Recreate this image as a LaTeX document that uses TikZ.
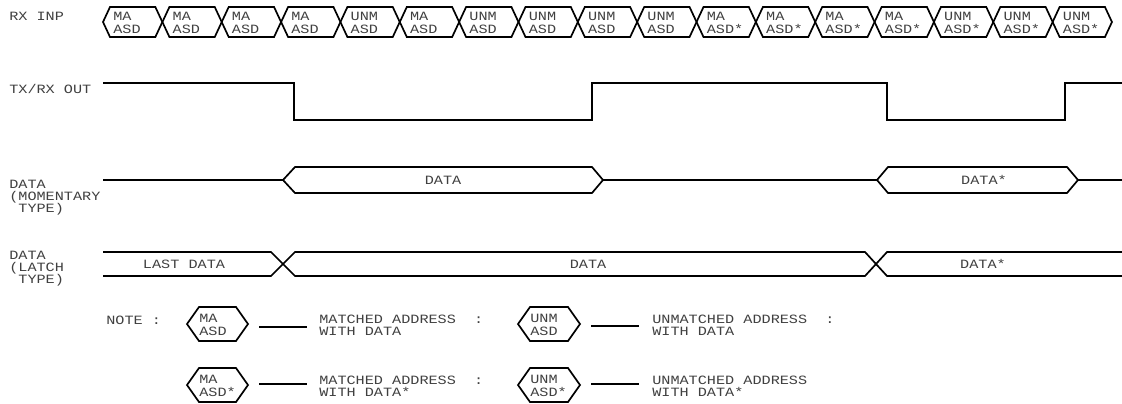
\documentclass[tikz,border=0pt]{standalone}
\usepackage{fontspec}
\usepackage{tikz}
\newfontfamily\plotfont[FakeStretch=1.2]{Liberation Mono}
\tikzset{
  sig/.style={line width=1.2pt},
  lbl/.style={font=\plotfont\fontsize{9}{8.5}\selectfont, text=black!75, inner sep=0pt, anchor=west, align=left},
  hexlbl/.style={font=\plotfont\fontsize{9}{9.2}\selectfont, text=black!75, inner sep=0pt, anchor=west, align=left},
  keyline/.style={line width=0.8pt}
}

\begin{document}
\begin{tikzpicture}[x=0.025cm,y=-0.025cm]
			\useasboundingbox (0,0) rectangle (1122,403);
			\node[lbl] (rxinp) at (9,16) {RX INP};
			\node[lbl] (txout) at (9,89) {TX/RX OUT};
			\node[lbl] (datamom) at (9,198) {DATA\\(MOMENTARY\\~TYPE)};
			\node[lbl] (datalatch) at (9,269) {DATA\\(LATCH\\~TYPE)};
			\draw[sig] (103,22) -- ++(7,-15) -- ++(45.35,0) -- ++(7,15) -- ++(-7,15) -- ++(-45.35,0) -- cycle;
			\draw[sig] (162.4,22) -- ++(7,-15) -- ++(45.35,0) -- ++(7,15) -- ++(-7,15) -- ++(-45.35,0) -- cycle;
			\draw[sig] (221.7,22) -- ++(7,-15) -- ++(45.35,0) -- ++(7,15) -- ++(-7,15) -- ++(-45.35,0) -- cycle;
			\draw[sig] (281.1,22) -- ++(7,-15) -- ++(45.35,0) -- ++(7,15) -- ++(-7,15) -- ++(-45.35,0) -- cycle;
			\draw[sig] (340.4,22) -- ++(7,-15) -- ++(45.35,0) -- ++(7,15) -- ++(-7,15) -- ++(-45.35,0) -- cycle;
			\draw[sig] (399.8,22) -- ++(7,-15) -- ++(45.35,0) -- ++(7,15) -- ++(-7,15) -- ++(-45.35,0) -- cycle;
			\draw[sig] (459.1,22) -- ++(7,-15) -- ++(45.35,0) -- ++(7,15) -- ++(-7,15) -- ++(-45.35,0) -- cycle;
			\draw[sig] (518.5,22) -- ++(7,-15) -- ++(45.35,0) -- ++(7,15) -- ++(-7,15) -- ++(-45.35,0) -- cycle;
			\draw[sig] (577.8,22) -- ++(7,-15) -- ++(45.35,0) -- ++(7,15) -- ++(-7,15) -- ++(-45.35,0) -- cycle;
			\draw[sig] (637.2,22) -- ++(7,-15) -- ++(45.35,0) -- ++(7,15) -- ++(-7,15) -- ++(-45.35,0) -- cycle;
			\draw[sig] (696.5,22) -- ++(7,-15) -- ++(45.35,0) -- ++(7,15) -- ++(-7,15) -- ++(-45.35,0) -- cycle;
			\draw[sig] (755.9,22) -- ++(7,-15) -- ++(45.35,0) -- ++(7,15) -- ++(-7,15) -- ++(-45.35,0) -- cycle;
			\draw[sig] (815.2,22) -- ++(7,-15) -- ++(45.35,0) -- ++(7,15) -- ++(-7,15) -- ++(-45.35,0) -- cycle;
			\draw[sig] (874.6,22) -- ++(7,-15) -- ++(45.35,0) -- ++(7,15) -- ++(-7,15) -- ++(-45.35,0) -- cycle;
			\draw[sig] (933.9,22) -- ++(7,-15) -- ++(45.35,0) -- ++(7,15) -- ++(-7,15) -- ++(-45.35,0) -- cycle;
			\draw[sig] (993.3,22) -- ++(7,-15) -- ++(45.35,0) -- ++(7,15) -- ++(-7,15) -- ++(-45.35,0) -- cycle;
			\draw[sig] (1052.6,22) -- ++(7,-15) -- ++(45.35,0) -- ++(7,15) -- ++(-7,15) -- ++(-45.35,0) -- cycle;
			\node[hexlbl] (rx1) at (113,23) {MA\\ASD};
			\node[hexlbl] (rx2) at (172.4,23) {MA\\ASD};
			\node[hexlbl] (rx3) at (231.7,23) {MA\\ASD};
			\node[hexlbl] (rx4) at (291.1,23) {MA\\ASD};
			\node[hexlbl] (rx5) at (350.4,23) {UNM\\ASD};
			\node[hexlbl] (rx6) at (409.8,23) {MA\\ASD};
			\node[hexlbl] (rx7) at (469.1,23) {UNM\\ASD};
			\node[hexlbl] (rx8) at (528.5,23) {UNM\\ASD};
			\node[hexlbl] (rx9) at (587.8,23) {UNM\\ASD};
			\node[hexlbl] (rx10) at (647.2,23) {UNM\\ASD};
			\node[hexlbl] (rx11) at (706.5,23) {MA\\ASD*};
			\node[hexlbl] (rx12) at (765.9,23) {MA\\ASD*};
			\node[hexlbl] (rx13) at (825.2,23) {MA\\ASD*};
			\node[hexlbl] (rx14) at (884.6,23) {MA\\ASD*};
			\node[hexlbl] (rx15) at (943.9,23) {UNM\\ASD*};
			\node[hexlbl] (rx16) at (1003.3,23) {UNM\\ASD*};
			\node[hexlbl] (rx17) at (1062.6,23) {UNM\\ASD*};
			\draw[sig] (103,83) -- (294,83) -- (294,120) -- (592,120) -- (592,83) -- (887,83) -- (887,120) -- (1065,120) -- (1065,83) -- (1122,83);
			\draw[sig] (103,180) -- (283,180) -- (295,167) -- (592,167) -- (603,180) -- (877,180) -- (888,167) -- (1067,167) -- (1078,180) -- (1122,180);
			\draw[sig] (283,180) -- (295,193) -- (592,193) -- (603,180);
			\draw[sig] (877,180) -- (888,193) -- (1067,193) -- (1078,180);
			\node[lbl,anchor=center] (momdata) at (443,180) {DATA};
			\node[lbl,anchor=center] (momdatastar) at (984,180) {DATA*};
			\draw[sig] (103,252) -- (271,252) -- (295,276) -- (865,276) -- (887,252) -- (1122,252);
			\draw[sig] (103,276) -- (271,276) -- (295,252) -- (865,252) -- (887,276) -- (1122,276);
			\node[lbl,anchor=center] (lastdata) at (184,264) {LAST DATA};
			\node[lbl,anchor=center] (latchdata) at (588,264) {DATA};
			\node[lbl,anchor=center] (latchdatastar) at (983,264) {DATA*};
			\node[lbl] (note) at (106,320) {NOTE :};
			\draw[sig] (187,324) -- ++(12,-17) -- ++(37,0) -- ++(12,17) -- ++(-12,17) -- ++(-37,0) -- cycle;
			\node[hexlbl] (keyma) at (199,325) {MA\\ASD};
			\draw[keyline] (259,327) -- (307,327);
			\node[lbl] (keymatxt) at (319,325) {MATCHED ADDRESS~~:\\WITH DATA};
			\draw[sig] (518,324) -- ++(12,-17) -- ++(38,0) -- ++(12,17) -- ++(-12,17) -- ++(-38,0) -- cycle;
			\node[hexlbl] (keyunm) at (530,325) {UNM\\ASD};
			\draw[keyline] (591,326) -- (639,326);
			\node[lbl] (keyunmtxt) at (652,325) {UNMATCHED ADDRESS~~:\\WITH DATA};
			\draw[sig] (187,385) -- ++(12,-17) -- ++(37,0) -- ++(12,17) -- ++(-12,17) -- ++(-37,0) -- cycle;
			\node[hexlbl] (keymastar) at (199,386) {MA\\ASD*};
			\draw[keyline] (259,384) -- (307,384);
			\node[lbl] (keymastartxt) at (319,386) {MATCHED ADDRESS~~:\\WITH DATA*};
			\draw[sig] (518,385) -- ++(12,-17) -- ++(38,0) -- ++(12,17) -- ++(-12,17) -- ++(-38,0) -- cycle;
			\node[hexlbl] (keyunmstar) at (530,386) {UNM\\ASD*};
			\draw[keyline] (591,384) -- (639,384);
			\node[lbl] (keyunmstartxt) at (652,386) {UNMATCHED ADDRESS\\WITH DATA*};
		\end{tikzpicture}
\end{document}
